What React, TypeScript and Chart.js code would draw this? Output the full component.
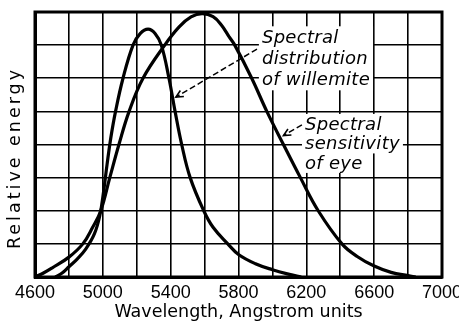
import React, { useEffect, useRef } from 'react';
import { Chart, registerables } from 'chart.js';

Chart.register(...registerables);

const WIDTH = 459;
const HEIGHT = 323;

// Spectral distribution of willemite (narrow curve)
const willemiteWavelengths = [4720, 4760, 4800, 4850, 4900, 4950, 4982, 5005, 5025, 5047, 5075, 5119, 5178, 5220, 5267, 5308, 5345, 5390, 5426, 5465, 5515, 5595, 5650, 5737, 5800, 5900, 6000, 6100, 6170];
const willemiteValues = [0, 0.12, 0.31, 0.55, 0.85, 1.3, 1.85, 2.6, 3.4, 4.2, 5.0, 6.0, 7.0, 7.35, 7.48, 7.35, 7.0, 6.0, 5.0, 4.0, 3.0, 2.0, 1.5, 1.0, 0.68, 0.4, 0.22, 0.08, 0];

// Spectral sensitivity of eye (broad curve)
const eyeWavelengths = [4600, 4650, 4700, 4800, 4882, 4940, 4988, 5041, 5095, 5155, 5237, 5365, 5450, 5520, 5585, 5650, 5700, 5745, 5778, 5878, 5967, 6065, 6165, 6270, 6410, 6500, 6600, 6700, 6800, 6845];
const eyeValues = [0, 0.12, 0.27, 0.6, 1.0, 1.5, 2.0, 3.0, 4.0, 5.0, 6.0, 7.0, 7.55, 7.85, 7.95, 7.86, 7.6, 7.25, 7.0, 6.0, 5.0, 4.0, 3.0, 2.0, 1.0, 0.62, 0.33, 0.14, 0.04, 0];

const xTickLabels = [4600, 5000, 5400, 5800, 6200, 6600, 7000];
const X_MIN = 4600;
const X_MAX = 7000;
const X_STEP = 200;
const Y_MIN = 0;
const Y_MAX = 8;
const Y_STEP = 1;

const xTitle = 'Wavelength, Angstrom units';
const yTitle = 'Relative energy';
const willemiteLabel = ['Spectral', 'distribution', 'of willemite'];
const eyeLabel = ['Spectral', 'sensitivity', 'of eye'];

type Note = {
  lines: string[];
  at: [number, number];
  lineGap: number;
  box: 'block' | 'line';
  arrowFrom: [number, number];
  arrowTo: [number, number];
};

const notes: Note[] = [
  { lines: willemiteLabel, at: [5938, 7.055], lineGap: 21, box: 'block', arrowFrom: [5909, 6.88], arrowTo: [5431, 5.43] },
  { lines: eyeLabel, at: [6192, 4.44], lineGap: 19.5, box: 'line', arrowFrom: [6174, 4.59], arrowTo: [6065, 4.27] },
];

const NOTE_FONT = 'italic 18px "DejaVu Sans", sans-serif';

const annotationPlugin = {
  id: 'annotations',
  beforeDatasetsDraw(chart: any) {
    const { ctx, scales } = chart;
    ctx.save();
    ctx.font = NOTE_FONT;
    (ctx as any).letterSpacing = '0.3px';
    ctx.fillStyle = '#fff';
    notes.forEach((n) => {
      const x0 = scales.x.getPixelForValue(n.at[0]);
      const y0 = scales.y.getPixelForValue(n.at[1]);
      const widths = n.lines.map((l) => ctx.measureText(l).width);
      if (n.box === 'block') {
        const w = Math.max(...widths);
        const top = y0 - 17;
        const bottom = y0 + (n.lines.length - 1) * n.lineGap + 5;
        ctx.fillRect(x0 - 3, top, w + 6, bottom - top);
      } else {
        n.lines.forEach((l, i) => {
          const by = y0 + i * n.lineGap;
          ctx.fillRect(x0 - 3, by - 16, widths[i] + 6, n.lineGap + 0.5);
        });
      }
    });
    ctx.restore();
  },
  afterDatasetsDraw(chart: any) {
    const { ctx, scales, chartArea } = chart;
    ctx.save();
    ctx.strokeStyle = '#000';
    ctx.lineWidth = 3;
    ctx.strokeRect(chartArea.left, chartArea.top, chartArea.right - chartArea.left, chartArea.bottom - chartArea.top);

    ctx.font = NOTE_FONT;
    (ctx as any).letterSpacing = '0.3px';
    ctx.fillStyle = '#000';
    ctx.textAlign = 'left';
    ctx.textBaseline = 'alphabetic';
    notes.forEach((n) => {
      const x0 = scales.x.getPixelForValue(n.at[0]);
      const y0 = scales.y.getPixelForValue(n.at[1]);
      n.lines.forEach((l, i) => ctx.fillText(l, x0, y0 + i * n.lineGap));

      const fx = scales.x.getPixelForValue(n.arrowFrom[0]);
      const fy = scales.y.getPixelForValue(n.arrowFrom[1]);
      const tx = scales.x.getPixelForValue(n.arrowTo[0]);
      const ty = scales.y.getPixelForValue(n.arrowTo[1]);
      ctx.lineWidth = 1.5;
      ctx.setLineDash([6, 3]);
      ctx.beginPath();
      ctx.moveTo(fx, fy);
      ctx.lineTo(tx, ty);
      ctx.stroke();
      ctx.setLineDash([]);
      const ang = Math.atan2(ty - fy, tx - fx);
      const len = 8;
      ctx.lineWidth = 1.6;
      ctx.beginPath();
      ctx.moveTo(tx - len * Math.cos(ang - 0.45), ty - len * Math.sin(ang - 0.45));
      ctx.lineTo(tx, ty);
      ctx.lineTo(tx - len * Math.cos(ang + 0.45), ty - len * Math.sin(ang + 0.45));
      ctx.stroke();
    });
    ctx.restore();
  },
  afterDraw(chart: any) {
    const { ctx } = chart;
    ctx.save();
    ctx.font = '17.5px "DejaVu Sans", sans-serif';
    (ctx as any).letterSpacing = '3px';
    ctx.fillStyle = '#000';
    ctx.textAlign = 'center';
    ctx.textBaseline = 'middle';
    ctx.translate(15, 158);
    ctx.rotate(-Math.PI / 2);
    ctx.fillText(yTitle, 0, 0);
    ctx.restore();
  },
};

export default function App() {
  const canvasRef = useRef<HTMLCanvasElement | null>(null);

  useEffect(() => {
    const canvas = canvasRef.current;
    if (!canvas) return;
    const chart = new Chart(canvas, {
      type: 'line',
      data: {
        datasets: [
          {
            label: 'Spectral distribution of willemite',
            data: willemiteWavelengths.map((x, i) => ({ x, y: willemiteValues[i] })),
            borderColor: '#000',
            borderWidth: 3.2,
            pointRadius: 0,
            fill: false,
            tension: 0.4,
          },
          {
            label: 'Spectral sensitivity of eye',
            data: eyeWavelengths.map((x, i) => ({ x, y: eyeValues[i] })),
            borderColor: '#000',
            borderWidth: 3.2,
            pointRadius: 0,
            fill: false,
            tension: 0.4,
          },
        ],
      },
      options: {
        animation: false,
        responsive: false,
        events: [],
        layout: { padding: { left: 0, top: 12, right: 17, bottom: 0 } },
        plugins: { legend: { display: false }, tooltip: { enabled: false } },
        scales: {
          x: {
            type: 'linear',
            min: X_MIN,
            max: X_MAX,
            ticks: {
              stepSize: X_STEP,
              autoSkip: false,
              maxRotation: 0,
              padding: 5,
              color: '#000',
              font: { family: '"Liberation Sans", sans-serif', size: 18 },
              callback: (v: any) => (xTickLabels.includes(Number(v)) ? String(v) : ''),
            },
            grid: { color: '#000', lineWidth: 1.6, drawTicks: false },
            border: { color: '#000', width: 3 },
            title: {
              display: true,
              text: xTitle,
              color: '#000',
              font: { family: '"DejaVu Sans", sans-serif', size: 17.5 },
              padding: { top: 0, bottom: 0 },
            },
            afterFit: (s: any) => {
              s.height = HEIGHT - 277;
              s.paddingLeft = 0;
              s.paddingRight = 0;
            },
          },
          y: {
            type: 'linear',
            min: Y_MIN,
            max: Y_MAX,
            ticks: { stepSize: Y_STEP, display: false },
            grid: { color: '#000', lineWidth: 1.6, drawTicks: false },
            border: { color: '#000', width: 3 },
            afterFit: (s: any) => {
              s.width = 35;
              s.paddingTop = 0;
              s.paddingBottom = 0;
            },
          },
        },
      },
      plugins: [annotationPlugin],
    } as any);
    return () => chart.destroy();
  }, []);

  return (
    <div style={{ position: 'absolute', left: 0, top: 0, width: WIDTH, height: HEIGHT, background: '#fff' }}>
      <canvas ref={canvasRef} width={WIDTH} height={HEIGHT} />
    </div>
  );
}
